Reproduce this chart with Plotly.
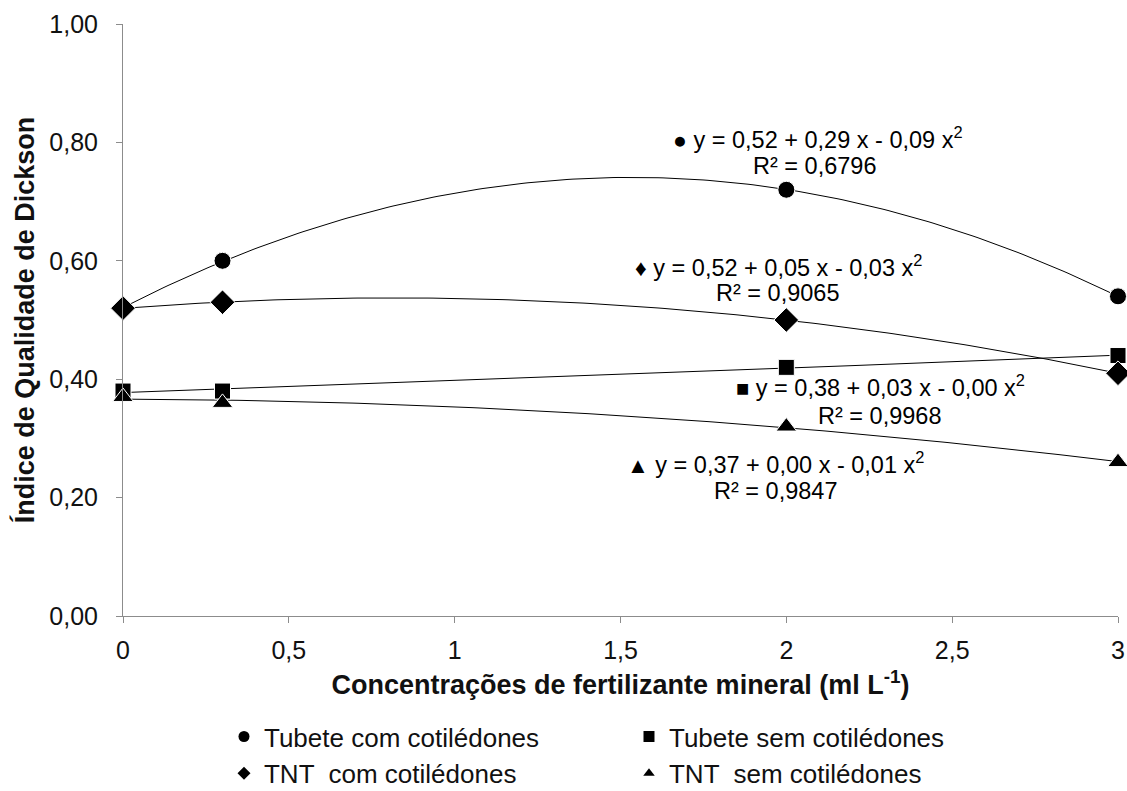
import numpy as np
import plotly.graph_objects as go

x_vals = [0, 0.3, 2, 3]
tubete_com = [0.52, 0.60, 0.72, 0.54]
tubete_sem = [0.38, 0.38, 0.42, 0.44]
tnt_com = [0.52, 0.53, 0.50, 0.41]
tnt_sem = [0.37, 0.36, 0.32, 0.26]

series_names = ["Tubete com cotilédones", "Tubete sem cotilédones",
                "TNT  com cotilédones", "TNT  sem cotilédones"]
series_values = [tubete_com, tubete_sem, tnt_com, tnt_sem]
symbols = ["circle", "square", "diamond", "triangle-up"]
sizes = [17, 16, 19, 18]
legend_sizes = [11, 11, 10, 10]

eq_lines = [
    "<span style='font-size:23px'>●</span> y = 0,52 + 0,29 x - 0,09 x<sup>2</sup>",
    "<span style='font-size:22px'>■</span> y = 0,38 + 0,03 x - 0,00 x<sup>2</sup>",
    "<span style='font-size:23px'>♦</span> y = 0,52 + 0,05 x - 0,03 x<sup>2</sup>",
    "<span style='font-size:22px'>▲</span> y = 0,37 + 0,00 x - 0,01 x<sup>2</sup>",
]
r2_lines = ["R² = 0,6796", "R² = 0,9968", "R² = 0,9065", "R² = 0,9847"]
eq_pos = [(0.6985, 0.8066), (0.7618, 0.3885), (0.6583, 0.5912), (0.6553, 0.2585)]
r2_pos = [(0.6945, 0.7601), (0.7598, 0.3378), (0.6573, 0.5456), (0.6553, 0.2111)]

FONT = "Liberation Sans, Arial, sans-serif"
fig = go.Figure()

xs = np.linspace(0, 3, 200)
for vals in series_values:
    c = np.polyfit(x_vals, vals, 2)
    fig.add_trace(go.Scatter(x=xs, y=np.polyval(c, xs), mode="lines",
                             line=dict(color="black", width=1),
                             showlegend=False, hoverinfo="skip"))

for name, vals, sym, sz in zip(series_names, series_values, symbols, sizes):
    fig.add_trace(go.Scatter(x=x_vals, y=vals, mode="markers", name=name,
                             marker=dict(symbol=sym, size=sz, color="black",
                                         line=dict(color="white", width=1)),
                             cliponaxis=False, showlegend=False))

for name, sym, sz in zip(series_names, symbols, legend_sizes):
    fig.add_trace(go.Scatter(x=[None], y=[None], mode="markers", name=name,
                             marker=dict(symbol=sym, size=sz, color="black")))

for txt, (px, py) in zip(eq_lines + r2_lines, eq_pos + r2_pos):
    fig.add_annotation(x=px, y=py, xref="paper", yref="paper", text=txt,
                       showarrow=False, align="center",
                       xanchor="center", yanchor="middle",
                       font=dict(family=FONT, size=23.5, color="black"))

axis_common = dict(showline=True, linecolor="#8c8c8c", linewidth=1,
                   ticks="outside", tickcolor="#8c8c8c", ticklen=6,
                   showgrid=False, zeroline=False, automargin=False,
                   ticklabeloverflow="allow",
                   tickfont=dict(family=FONT, size=25, color="#111"))

fig.update_xaxes(range=[0, 3], dtick=0.5, tick0=0, ticklabelstandoff=6,
                 title=dict(text="<b>Concentrações de fertilizante mineral (ml L<sup>-1</sup>)</b>",
                            font=dict(family=FONT, size=27, color="#111"), standoff=12),
                 **axis_common)
fig.update_yaxes(range=[0, 1], dtick=0.2, tick0=0, tickformat=".2f", ticklabelstandoff=13,
                 title=dict(text="<b>Índice de Qualidade de Dickson</b>",
                            font=dict(family=FONT, size=27, color="#111"), standoff=6),
                 **axis_common)

fig.update_layout(
    width=1127, height=791,
    margin=dict(l=123, r=9, t=24, b=175),
    paper_bgcolor="white", plot_bgcolor="white",
    separators=",.",
    legend=dict(orientation="h", x=0.1015, y=0.0985, xanchor="left", yanchor="top",
                yref="container",
                entrywidth=360, entrywidthmode="pixels",
                font=dict(family=FONT, size=26, color="#111"),
                traceorder="normal"),
)

fig.write_html("out.html", config={"displayModeBar": False},
               post_script="document.body.style.margin='0';document.body.style.overflow='hidden';")
